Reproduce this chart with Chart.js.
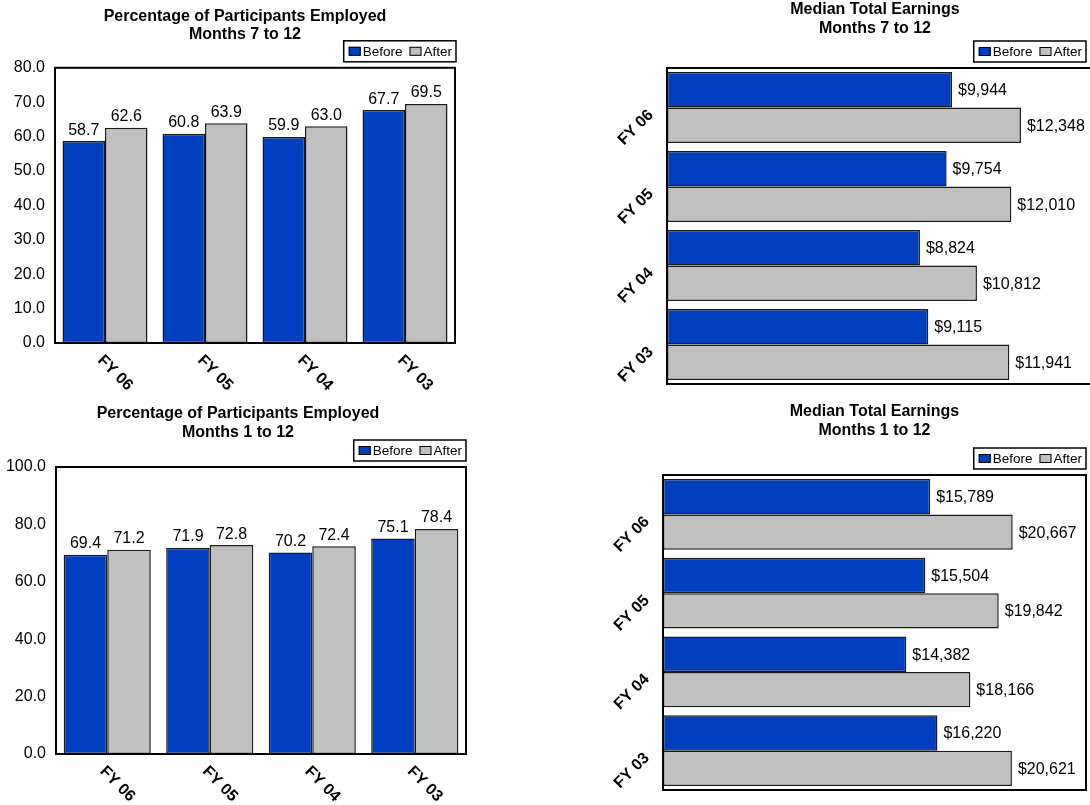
<!DOCTYPE html>
<html lang="en">
<head>
    <title>Employment and Earnings</title>
    <meta charset="utf-8">
    <style>
        body { margin: 0; background: #fff; overflow: hidden; }
        #page { position: relative; width: 1090px; height: 805px; overflow: hidden; }
        #page canvas { position: absolute; }
    </style>
</head>
<body>
    <div id="page">
        <canvas id="empl712"></canvas>
        <canvas id="earn712"></canvas>
        <canvas id="empl112"></canvas>
        <canvas id="earn112"></canvas>
    </div>

    <script src="https://cdn.jsdelivr.net/npm/chart.js"></script>
    <script>
        // Data
        const categories = ['FY 06', 'FY 05', 'FY 04', 'FY 03'];
        const seriesNames = ['Before', 'After'];

        const employed712Before = [58.7, 60.8, 59.9, 67.7];
        const employed712After = [62.6, 63.9, 63.0, 69.5];
        const employed112Before = [69.4, 71.9, 70.2, 75.1];
        const employed112After = [71.2, 72.8, 72.4, 78.4];

        const earnings712Before = [9944, 9754, 8824, 9115];
        const earnings712After = [12348, 12010, 10812, 11941];
        const earnings112Before = [15789, 15504, 14382, 16220];
        const earnings112After = [20667, 19842, 18166, 20621];

        const FONT = "'Liberation Sans', Arial, sans-serif";
        const BLUE = '#0040C0';
        const GRAY = '#C0C0C0';

        const pctFormat = v => v.toFixed(1);
        const moneyFormat = v => '$' + v.toLocaleString('en-US');

        // frame, value labels, slanted category labels and boxed legend
        const decorPlugin = {
            id: 'decor',
            afterLayout(chart, args, opts) {
                // move the title off the plot centre, like the original
                const t = chart.titleBlock;
                if (t && opts.titleShift) {
                    t.left += opts.titleShift;
                    t.right += opts.titleShift;
                }
            },
            afterDatasetsDraw(chart, args, opts) {
                const ctx = chart.ctx;
                const a = chart.chartArea;
                const horizontal = chart.options.indexAxis === 'y';
                ctx.save();
                ctx.strokeStyle = '#000';
                ctx.lineWidth = 2;
                ctx.strokeRect(a.left, a.top, a.right - a.left, a.bottom - a.top);

                ctx.fillStyle = '#000';
                ctx.font = '16px ' + FONT;
                chart.data.datasets.forEach((ds, di) => {
                    chart.getDatasetMeta(di).data.forEach((bar, i) => {
                        const txt = opts.format(ds.data[i]);
                        if (horizontal) {
                            ctx.textAlign = 'left';
                            ctx.textBaseline = 'middle';
                            ctx.fillText(txt, bar.x + 6, bar.y + 1);
                        } else {
                            ctx.textAlign = 'center';
                            ctx.textBaseline = 'alphabetic';
                            ctx.fillText(txt, bar.x, bar.y - 6.5);
                        }
                    });
                });

                ctx.font = 'bold 16px ' + FONT;
                const catScale = horizontal ? chart.scales.y : chart.scales.x;
                chart.data.labels.forEach((lab, i) => {
                    const p = catScale.getPixelForTick(i);
                    ctx.save();
                    if (horizontal) {
                        ctx.translate(a.left - 16, p + 5);
                        ctx.rotate(-Math.PI / 4);
                        ctx.textAlign = 'right';
                    } else {
                        ctx.translate(p - 5, a.bottom + 15);
                        ctx.rotate(Math.PI / 4);
                        ctx.textAlign = 'left';
                    }
                    ctx.textBaseline = 'middle';
                    ctx.fillText(lab, 0, 0);
                    ctx.restore();
                });
                ctx.restore();
            },
            afterDraw(chart, args, opts) {
                const ctx = chart.ctx;
                const a = chart.chartArea;
                ctx.save();
                ctx.font = '13.5px ' + FONT;
                const dsets = chart.data.datasets;
                const widths = dsets.map(ds => ctx.measureText(ds.label).width);
                let w = 5 + 4;
                widths.forEach((tw, i) => { w += 12 + 2 + tw + (i < widths.length - 1 ? 7 : 0); });
                const h = 21;
                const right = a.right + opts.legendShift;
                const bottom = a.top - 6;
                const left = right - w;
                const top = bottom - h;
                ctx.fillStyle = '#fff';
                ctx.fillRect(left, top, w, h);
                ctx.strokeStyle = '#000';
                ctx.lineWidth = 1.5;
                ctx.strokeRect(left, top, w, h);
                let x = left + 5;
                const cy = top + h / 2;
                dsets.forEach((ds, i) => {
                    ctx.fillStyle = ds.backgroundColor;
                    ctx.fillRect(x, cy - 4.5, 12, 9);
                    ctx.lineWidth = 1;
                    ctx.strokeStyle = '#000';
                    ctx.strokeRect(x + 0.5, cy - 4, 11, 8);
                    x += 14;
                    ctx.fillStyle = '#000';
                    ctx.textAlign = 'left';
                    ctx.textBaseline = 'middle';
                    ctx.fillText(ds.label, x, cy + 0.5);
                    x += widths[i] + 7;
                });
                ctx.restore();
            }
        };

        function makeChart(spec) {
            const canvas = document.getElementById(spec.id);
            canvas.width = spec.w;
            canvas.height = spec.h;
            canvas.style.left = spec.left + 'px';
            canvas.style.top = spec.top + 'px';

            const horizontal = spec.horizontal;
            const valueAxis = {
                min: 0,
                max: spec.max,
                grid: { display: false, drawTicks: false },
                border: { display: false },
                ticks: horizontal ? { display: false } : {
                    stepSize: spec.step,
                    padding: 10,
                    color: '#000',
                    font: { family: FONT, size: 16 },
                    callback: v => v.toFixed(1)
                },
                afterFit: s => { if (horizontal) s.height = spec.catSize; else s.width = spec.axisSize; }
            };
            const catAxis = {
                grid: { display: false, drawTicks: false },
                border: { display: false },
                ticks: { display: false },
                afterFit: s => { if (horizontal) s.width = spec.axisSize; else s.height = spec.catSize; }
            };

            return new Chart(canvas, {
                type: 'bar',
                data: {
                    labels: categories,
                    datasets: [
                        { label: seriesNames[0], data: spec.before, backgroundColor: BLUE },
                        { label: seriesNames[1], data: spec.after, backgroundColor: GRAY }
                    ]
                },
                options: {
                    responsive: false,
                    animation: false,
                    indexAxis: horizontal ? 'y' : 'x',
                    datasets: {
                        bar: {
                            borderColor: '#1a1a1a',
                            borderWidth: 1.5,
                            borderSkipped: false,
                            categoryPercentage: spec.catPct,
                            barPercentage: 1.0
                        }
                    },
                    layout: { padding: spec.pad },
                    scales: horizontal ? { x: valueAxis, y: catAxis } : { x: catAxis, y: valueAxis },
                    plugins: {
                        legend: { display: false },
                        tooltip: { enabled: false },
                        title: {
                            display: true,
                            text: spec.title,
                            color: '#000',
                            font: { family: FONT, size: 16, weight: 'bold', lineHeight: 1.15 },
                            padding: spec.titlePad
                        },
                        decor: { format: spec.format, legendShift: spec.legendShift, titleShift: spec.titleShift }
                    }
                },
                plugins: [decorPlugin]
            });
        }

        document.addEventListener('DOMContentLoaded', function() {
            makeChart({
                id: 'empl712', left: 0, top: 0, w: 470, h: 400,
                pad: { left: 0, right: 15, top: 0, bottom: 0 },
                titlePad: { top: 7, bottom: 24 },
                title: ['Percentage of Participants Employed', 'Months 7 to 12'],
                axisSize: 55, catSize: 57, max: 80, step: 10, catPct: 0.85,
                before: employed712Before, after: employed712After,
                format: pctFormat, legendShift: 1, titleShift: 17.5
            });
            makeChart({
                id: 'empl112', left: 0, top: 400, w: 480, h: 405,
                pad: { left: 0, right: 14, top: 0, bottom: 0 },
                titlePad: { top: 4.8, bottom: 25.4 },
                title: ['Percentage of Participants Employed', 'Months 1 to 12'],
                axisSize: 56, catSize: 51, max: 100, step: 20, catPct: 0.85,
                before: employed112Before, after: employed112After,
                format: pctFormat, legendShift: 0, titleShift: 5
            });
            makeChart({
                id: 'earn712', left: 590, top: 0, w: 520, h: 400, horizontal: true,
                pad: { left: 63, right: 13, top: 0, bottom: 16 },
                titlePad: { top: 0.8, bottom: 30.4 },
                title: ['Median Total Earnings', 'Months 7 to 12'],
                axisSize: 14, catSize: 0, max: 15000, catPct: 0.9,
                before: earnings712Before, after: earnings712After,
                format: moneyFormat, legendShift: -11, titleShift: 0
            });
            makeChart({
                id: 'earn112', left: 590, top: 400, w: 500, h: 405, horizontal: true,
                pad: { left: 73, right: 4, top: 0, bottom: 15 },
                titlePad: { top: 2.8, bottom: 35.4 },
                title: ['Median Total Earnings', 'Months 1 to 12'],
                axisSize: 0, catSize: 0, max: 25000, catPct: 0.9,
                before: earnings112Before, after: earnings112After,
                format: moneyFormat, legendShift: 0, titleShift: 0
            });
        });
    </script>
</body>
</html>
